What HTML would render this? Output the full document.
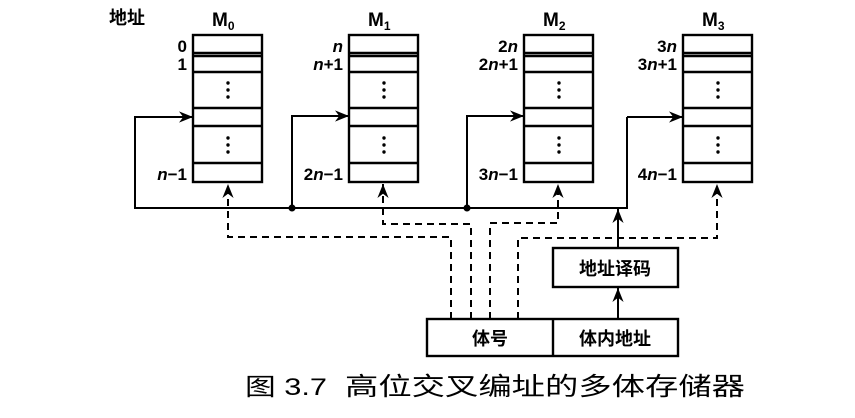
<!DOCTYPE html>
<html><head><meta charset="utf-8"><style>
body{margin:0;background:#fff;}
svg text{font-family:"Liberation Sans","Noto Sans CJK SC",sans-serif;fill:#000;}
</style></head><body>
<svg width="855" height="413" viewBox="0 0 855 413" xmlns="http://www.w3.org/2000/svg">
<defs>
<marker id="a" viewBox="0 0 10 10" refX="10" refY="5" markerWidth="7" markerHeight="7" orient="auto-start-reverse"><path d="M0,1 L10,5 L0,9 L3,5z" fill="#000"/></marker>
<g id="mem" fill="none" stroke="#000" stroke-width="2.4">
<rect x="0" y="0" width="69" height="147"/>
<line x1="0" y1="18" x2="69" y2="18"/><line x1="0" y1="21" x2="69" y2="21"/>
<line x1="0" y1="37" x2="69" y2="37"/>
<line x1="0" y1="73" x2="69" y2="73"/><line x1="0" y1="91" x2="69" y2="91"/>
<line x1="0" y1="128" x2="69" y2="128"/>
<g fill="#000" stroke="none"><circle cx="35" cy="48" r="1.7"/><circle cx="35" cy="55" r="1.7"/><circle cx="35" cy="62" r="1.7"/>
<circle cx="35" cy="103" r="1.7"/><circle cx="35" cy="110" r="1.7"/><circle cx="35" cy="117" r="1.7"/></g>
</g>
</defs>
<use href="#mem" x="193" y="35"/>
<use href="#mem" x="349" y="35"/>
<use href="#mem" x="524" y="35"/>
<use href="#mem" x="683" y="35"/>
<g font-size="18" font-weight="bold">
<text x="109" y="24">地址</text>
</g>
<g font-size="19" font-weight="bold">
<text x="212" y="26">M<tspan font-size="12" dy="4">0</tspan></text>
<text x="368" y="26">M<tspan font-size="12" dy="4">1</tspan></text>
<text x="543" y="26">M<tspan font-size="12" dy="4">2</tspan></text>
<text x="702" y="26">M<tspan font-size="12" dy="4">3</tspan></text>
</g>
<g font-size="17" font-weight="bold" text-anchor="end">
<text x="187" y="52">0</text><text x="187" y="70">1</text><text x="187" y="180"><tspan font-style="italic">n</tspan>−1</text>
<text x="343" y="52" font-style="italic">n</text><text x="343" y="70"><tspan font-style="italic">n</tspan>+1</text><text x="343" y="180">2<tspan font-style="italic">n</tspan>−1</text>
<text x="518" y="52">2<tspan font-style="italic">n</tspan></text><text x="518" y="70">2<tspan font-style="italic">n</tspan>+1</text><text x="518" y="180">3<tspan font-style="italic">n</tspan>−1</text>
<text x="677" y="52">3<tspan font-style="italic">n</tspan></text><text x="677" y="70">3<tspan font-style="italic">n</tspan>+1</text><text x="677" y="180">4<tspan font-style="italic">n</tspan>−1</text>
</g>
<g fill="none" stroke="#000" stroke-width="2">
<polyline points="627,117 627,208 135,208 135,117 193,117" marker-end="url(#a)"/>
<polyline points="292,208 292,116 349,116" marker-end="url(#a)"/>
<polyline points="467,208 467,116 524,116" marker-end="url(#a)"/>
<polyline points="627,117 683,117" marker-end="url(#a)"/>
<line x1="618" y1="248" x2="618" y2="209" marker-end="url(#a)"/>
<line x1="618" y1="319" x2="618" y2="288" marker-end="url(#a)"/>
</g>
<g fill="#000"><circle cx="292" cy="208" r="3.5"/><circle cx="467" cy="208" r="3.5"/></g>
<g fill="none" stroke="#000" stroke-width="2" stroke-dasharray="7,5">
<polyline points="451,319 451,237 228,237 228,184" marker-end="url(#a)"/>
<polyline points="471,319 471,224 383,224 383,184" marker-end="url(#a)"/>
<polyline points="490,319 490,223 558,223 558,184" marker-end="url(#a)"/>
<polyline points="518,319 518,238 717,238 717,184" marker-end="url(#a)"/>
</g>
<g fill="none" stroke="#000" stroke-width="2.4">
<rect x="553" y="248" width="125" height="39"/>
<rect x="427" y="319" width="251" height="37"/>
<line x1="553" y1="319" x2="553" y2="356"/>
</g>
<g font-size="18" font-weight="bold" text-anchor="middle">
<text x="615" y="275">地址译码</text>
<text x="490" y="345">体号</text>
<text x="615" y="345">体内地址</text>
</g>
<text x="245" y="395" font-size="24" textLength="82" lengthAdjust="spacingAndGlyphs">图 3.7</text>
<text x="345" y="395" font-size="25" textLength="400" lengthAdjust="spacingAndGlyphs">高位交叉编址的多体存储器</text>
</svg>
</body></html>
